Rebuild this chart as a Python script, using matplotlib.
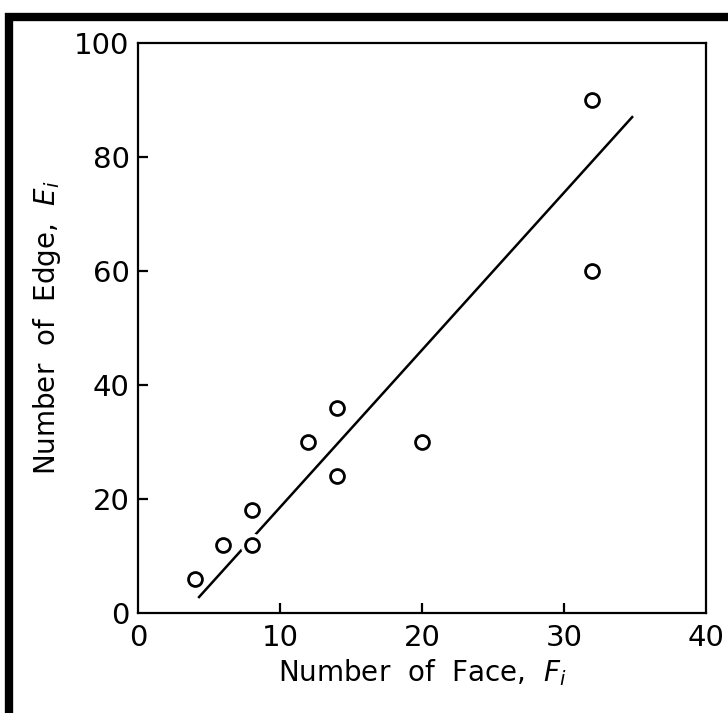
import matplotlib
matplotlib.use("Agg")
import matplotlib.pyplot as plt
from matplotlib.patches import Rectangle

# data
faces = [4, 6, 8, 8, 12, 14, 14, 20, 32, 32]
edges = [6, 12, 12, 18, 30, 36, 24, 30, 60, 90]
fit_x = [4.3, 34.8]
fit_y = [2.8, 87.0]
xticks = [0, 10, 20, 30, 40]
yticks = [0, 20, 40, 60, 80, 100]

W, H = 728, 713
fig = plt.figure(figsize=(W / 100, H / 100), dpi=100)
ax = fig.add_axes([138 / W, 1 - 613 / H, (706 - 138) / W, (613 - 43) / H])

fam = ["DejaVu Sans"]

ax.plot(fit_x, fit_y, color="black", lw=1.8, zorder=2)
ax.plot(faces, edges, linestyle="none", marker="o", markersize=16,
        markerfacecolor="white", markeredgecolor="white", zorder=3)
ax.plot(faces, edges, linestyle="none", marker="o", markersize=10,
        markerfacecolor="white", markeredgecolor="black", markeredgewidth=2.0, zorder=4)

ax.set_xlim(0, 40)
ax.set_ylim(0, 100)
ax.set_xticks(xticks)
ax.set_yticks(yticks)
ax.set_xticklabels([str(v) for v in xticks], fontfamily=fam, fontsize=21)
ax.set_yticklabels([str(v) for v in yticks], fontfamily=fam, fontsize=21)
for spine in ax.spines.values():
    spine.set_linewidth(1.6)
ax.tick_params(direction="in", length=7, width=1.6)
ax.tick_params(axis="x", pad=8)
ax.tick_params(axis="y", pad=6)
for t in ax.xaxis.get_major_ticks():
    if t.get_loc() in (0, 40):
        t.tick1line.set_visible(False)
for t in ax.yaxis.get_major_ticks():
    if t.get_loc() in (0, 100):
        t.tick1line.set_visible(False)

ax.set_xlabel(r"Number  of  Face,  $\mathbf{\it{F_i}}$", fontfamily=fam, fontsize=20, labelpad=4)
ax.set_ylabel(r"Number  of  Edge,  $\mathbf{\it{E_i}}$", fontfamily=fam, fontsize=20, labelpad=8)

frame = Rectangle((9 / W, -0.1), 1.3, 1 - 16.5 / H + 0.1, transform=fig.transFigure,
                  fill=False, edgecolor="black", linewidth=6, clip_on=False)
fig.patches.append(frame)

fig.savefig("out.png", dpi=100)
